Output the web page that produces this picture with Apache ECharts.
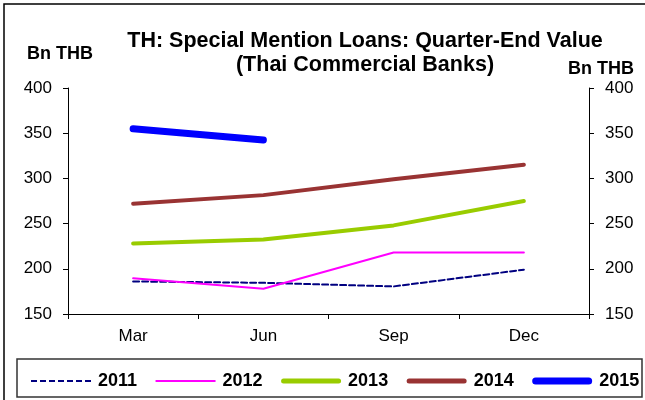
<!DOCTYPE html>
<html>
<head>
<meta charset="utf-8">
<script src="https://cdn.jsdelivr.net/npm/echarts@6/dist/echarts.min.js"></script>
<style>
  html, body { margin: 0; padding: 0; background: #fff; }
  #chartWrap { width: 645px; height: 400px; }
</style>
</head>
<body>
<div id="chartWrap"></div>
<script>
// quarter-end values, Bn THB
var quarters = ["Mar", "Jun", "Sep", "Dec"];
var y2011 = [186, 184.5, 180.5, 199];
var y2012 = [189.5, 178, 218, 218];
var y2013 = [228, 232.5, 248, 275];
var y2014 = [272, 281.5, 299, 315];
var y2015 = [355, 342.5];
var yTicks = { min: 150, max: 400, step: 50 };

var font = "Liberation Sans, Arial, sans-serif";
var chart = echarts.init(document.getElementById("chartWrap"));

// legend samples: flat bars of the line's thickness (60 wide)
function barIcon(h) {
  var r = h / 2;
  if (h < 3) return "path://M0,0H60V" + h + "H0Z";
  return "path://M" + r + ",0H" + (60 - r) + "A" + r + "," + r + " 0 0 1 " + (60 - r) + "," + h +
    "H" + r + "A" + r + "," + r + " 0 0 1 " + r + ",0Z";
}
function dashIcon() {
  var p = "path://";
  for (var i = 0; i < 7; i++) p += "M" + (i * 9) + ",0h6v2h-6z";
  return p;
}

function yAxis(pos) {
  return {
    type: "value",
    position: pos,
    min: yTicks.min,
    max: yTicks.max,
    interval: yTicks.step,
    splitLine: { show: false },
    axisLine: { show: true, lineStyle: { color: "#000", width: 1 } },
    axisTick: { show: true, inside: false, length: 5, lineStyle: { color: "#000" } },
    axisLabel: { color: "#000", fontSize: 17, fontFamily: font, margin: 16 }
  };
}

function line(name, data, color, width, dashed) {
  return {
    name: name,
    type: "line",
    data: data,
    symbol: "none",
    smooth: false,
    lineStyle: {
      color: color,
      width: width,
      type: dashed ? [6, 3] : "solid",
      cap: "round"
    },
    itemStyle: { color: color }
  };
}

var opts = {
  animation: false,
  backgroundColor: "#fff",
  textStyle: { fontFamily: font },
  title: {
    text: "TH: Special Mention Loans: Quarter-End Value\n(Thai Commercial Banks)",
    left: 360,
    top: 24,
    textAlign: "center",
    textStyle: { fontSize: 21.5, fontWeight: "bold", color: "#000", lineHeight: 24, fontFamily: font }
  },
  grid: { left: 68, right: 56, top: 88, bottom: 86 },
  xAxis: {
    type: "category",
    data: quarters,
    boundaryGap: true,
    axisLine: { lineStyle: { color: "#000", width: 1 } },
    axisTick: { show: true, inside: false, length: 5, lineStyle: { color: "#000" } },
    axisLabel: { color: "#000", fontSize: 17, fontFamily: font, margin: 14 }
  },
  yAxis: [yAxis("left"), yAxis("right")],
  legend: {
    left: 31,
    top: 372,
    padding: 0,
    itemWidth: 60,
    itemHeight: 14,
    itemGap: 18.5,
    symbolKeepAspect: true,
    textStyle: { fontSize: 18, fontWeight: "bold", color: "#000", fontFamily: font, padding: [0, 0, 0, 2] },
    data: [
      { name: "2011", icon: dashIcon() },
      { name: "2012", icon: barIcon(2) },
      { name: "2013", icon: barIcon(5) },
      { name: "2014", icon: barIcon(5) },
      { name: "2015", icon: barIcon(7) }
    ]
  },
  graphic: [
    { type: "rect", shape: { x: 4, y: 4, width: 660, height: 420 }, style: { fill: null, stroke: "#000", lineWidth: 1.5 }, silent: true },
    { type: "rect", shape: { x: 17, y: 359, width: 625, height: 38 }, style: { fill: null, stroke: "#333", lineWidth: 1.5 }, silent: true },
    { type: "text", left: 27, top: 45, style: { text: "Bn THB", font: "bold 18px " + font, fill: "#000" } },
    { type: "text", left: 568, top: 60, style: { text: "Bn THB", font: "bold 18px " + font, fill: "#000" } }
  ],
  series: [
    line("2011", y2011, "#000080", 2, true),
    line("2012", y2012, "#ff00ff", 2, false),
    line("2013", y2013, "#99cc00", 4, false),
    line("2014", y2014, "#993333", 4, false),
    line("2015", y2015, "#0000ff", 7, false)
  ]
};
chart.setOption(opts);
</script>
</body>
</html>
